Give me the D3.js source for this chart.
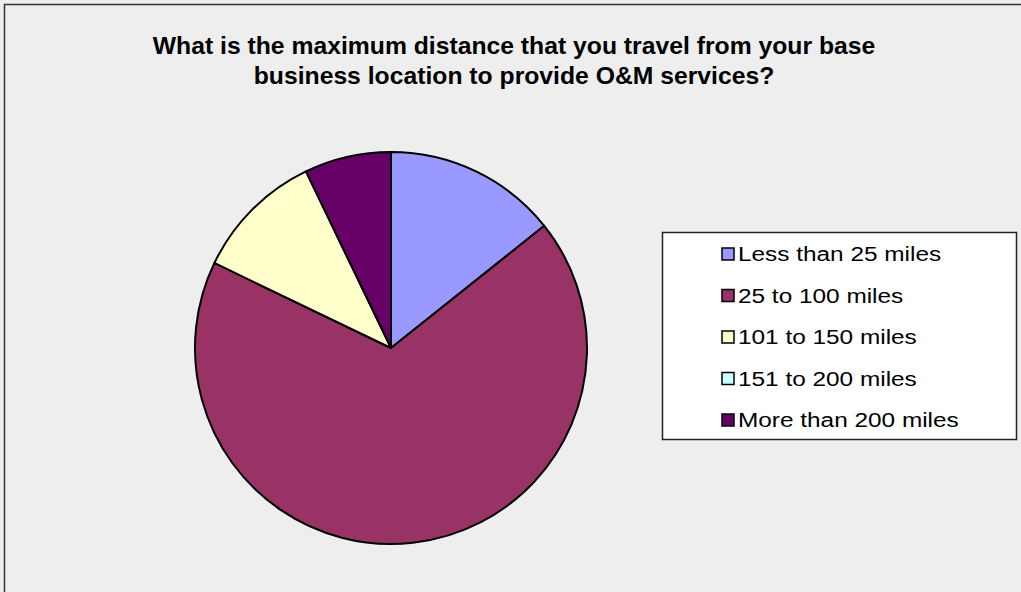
<!DOCTYPE html>
<html>
<head>
<meta charset="utf-8">
<script src="https://cdn.jsdelivr.net/npm/d3@7"></script>
<style>
  html, body { margin: 0; padding: 0; background: #eeeeee; }
  svg { display: block; }
</style>
</head>
<body>
<svg id="chart" width="1021" height="592"></svg>
<script>
// Survey responses: maximum travel distance for O&M services
const categories = ["Less than 25 miles", "25 to 100 miles", "101 to 150 miles", "151 to 200 miles", "More than 200 miles"];
const responses = [4, 19, 3, 0, 2];
const sliceColors = ["#9999ff", "#993366", "#ffffcc", "#ccffff", "#660066"];
const titleLines = [
  "What is the maximum distance that you travel from your base",
  "business location to provide O&M services?"
];

const data = categories.map((c, i) => ({ category: c, value: responses[i] }));

const svg = d3.select("#chart");

// chart area background and frame
svg.append("rect")
  .attr("x", 4.5).attr("y", 4.5)
  .attr("width", 1040).attr("height", 620)
  .attr("fill", "#eeeeee")
  .attr("stroke", "#333")
  .attr("stroke-width", 1.5);

// title
const title = svg.append("g").attr("transform", "translate(514,0) scale(1.03,1)");
title.selectAll("text")
  .data(titleLines)
  .join("text")
  .attr("x", 0)
  .attr("y", (d, i) => 54 + i * 30)
  .attr("text-anchor", "middle")
  .attr("font-family", "Liberation Sans, Arial, sans-serif")
  .attr("font-size", 24)
  .attr("font-weight", "bold")
  .attr("fill", "#000")
  .text(d => d);

// pie
const cx = 391, cy = 348, radius = 196;
const pie = d3.pie()
  .value(d => d.value)
  .sort(null)
  .startAngle(0)
  .endAngle(2 * Math.PI);
const arc = d3.arc().innerRadius(0).outerRadius(radius);
const color = d3.scaleOrdinal().domain(categories).range(sliceColors);

svg.append("g")
  .attr("transform", `translate(${cx},${cy})`)
  .selectAll("path")
  .data(pie(data).filter(d => d.data.value > 0))
  .join("path")
  .attr("d", arc)
  .attr("fill", d => color(d.data.category))
  .attr("stroke", "#000")
  .attr("stroke-width", 2)
  .attr("stroke-linejoin", "round");

// legend
const legendX = 662.5, legendY = 232.5, legendW = 354, legendH = 207;
svg.append("rect")
  .attr("x", legendX).attr("y", legendY)
  .attr("width", legendW).attr("height", legendH)
  .attr("fill", "#ffffff")
  .attr("stroke", "#222")
  .attr("stroke-width", 1.5);

const rowY = d3.scalePoint().domain(categories).range([254, 420]);

const items = svg.append("g").selectAll("g")
  .data(categories)
  .join("g")
  .attr("transform", d => `translate(722,${rowY(d)})`);

items.append("rect")
  .attr("x", 0).attr("y", -6)
  .attr("width", 12).attr("height", 12)
  .attr("fill", d => color(d))
  .attr("stroke", "#000")
  .attr("stroke-width", 1.5);

items.append("text")
  .attr("transform", "translate(16,0) scale(1.25,1)")
  .attr("dy", "0.36em")
  .attr("font-family", "Liberation Sans, Arial, sans-serif")
  .attr("font-size", 19.5)
  .attr("fill", "#000")
  .text(d => d);
</script>
</body>
</html>
